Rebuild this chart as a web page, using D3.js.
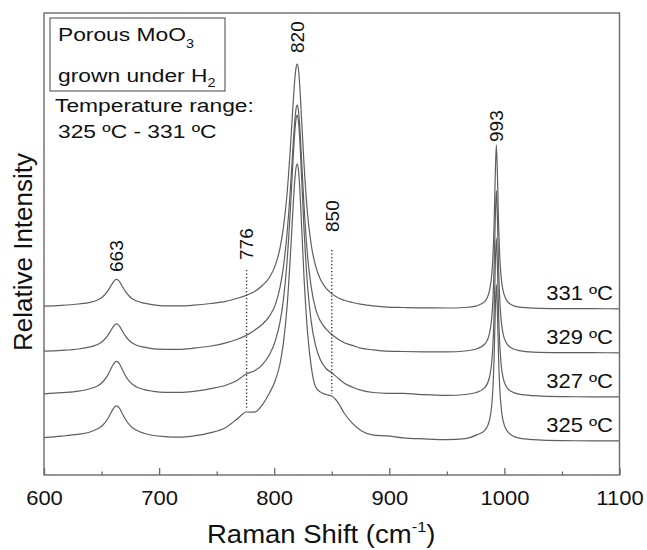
<!DOCTYPE html>
<html>
<head>
<meta charset="utf-8">
<script src="https://cdn.jsdelivr.net/npm/d3@7"></script>
<style>
  html, body { margin: 0; padding: 0; background: #fff; }
  svg { display: block; font-family: "Liberation Sans", Arial, Helvetica, sans-serif; }
</style>
</head>
<body>
<svg id="chart" width="647" height="550"></svg>
<script>
// Raman shift sampling (cm-1), shared by every spectrum
const ramanShift = [600, 615, 630, 640, 646, 651, 655, 658, 660, 662, 663, 664, 666, 668, 671, 675, 680, 687, 695, 705,
  718, 730, 745, 758, 768, 776, 783, 790, 796, 801, 805, 808, 811, 814, 816, 818, 819, 820, 821, 822,
  824, 826, 829, 832, 836, 840, 845, 850, 855, 861, 868, 876, 886, 898, 912, 930, 950, 966, 976, 983,
  987, 989, 990, 991, 992, 993, 994, 995, 996, 997, 998, 1000, 1003, 1007, 1013, 1025, 1050, 1075, 1100];

// Relative intensities (a.u.) for each growth temperature
const i331 = [2.8, 3.6, 5.0, 6.6, 8.7, 12.2, 17.4, 22.9, 26.7, 29.2, 29.6, 29.2, 26.7, 22.7, 17.1, 11.8, 8.2, 5.8, 4.2, 3.1,
  3.1, 3.8, 5.5, 7.6, 10.7, 13.7, 17.6, 23.8, 31.8, 43.9, 60.6, 81.3, 113, 160.3, 197.9, 231, 241.4, 245, 240.2, 226.7,
  185.5, 143.1, 94.7, 65.5, 42.8, 29.9, 20.9, 15.4, 11.5, 8.7, 6.5, 4.6, 3.1, 1.9, 1.5, 1.1, 1.0, 1.5, 3.2, 7.7,
  18.2, 34.3, 51.8, 82.9, 131.5, 163.9, 131.5, 82.9, 51.8, 34.3, 23.8, 13.6, 7.1, 3.8, 1.9, 0.9, 0.4, 0.3, 0.2];
const i329 = [1.8, 2.6, 4.0, 6.1, 8.2, 11.7, 16.9, 22.4, 26.2, 28.7, 29.1, 28.7, 26.2, 22.2, 16.7, 11.5, 8.0, 5.8, 4.2, 3.7,
  3.6, 4.8, 7.0, 10.2, 13.8, 17.8, 22.8, 29.0, 37.1, 48.4, 65.3, 86.2, 117.3, 163.2, 199.8, 233.8, 244.4, 248, 243.2, 229.9,
  188.7, 145.8, 96.9, 67.2, 43.8, 32.3, 24.1, 18.5, 14.2, 10.2, 7.6, 4.6, 3.2, 1.9, 1.5, 1.2, 1.1, 2.0, 4.2, 9.0,
  19.4, 35.2, 52.4, 82.9, 130.6, 162.4, 130.6, 82.9, 52.4, 35.2, 24.8, 14.3, 7.9, 4.5, 2.4, 0.9, 0.4, 0.3, 0.2];
const i327 = [3.1, 4.3, 5.9, 8.3, 10.8, 15.0, 21.1, 27.7, 32.3, 35.3, 35.7, 35.3, 32.3, 27.6, 20.8, 14.6, 10.3, 7.4, 5.7, 4.7,
  4.6, 5.6, 8.4, 11.7, 16.8, 23.3, 26.2, 32.7, 42.4, 56.4, 74.6, 97.4, 132.8, 186.4, 229.2, 266.8, 278.4, 282, 276.5, 261.5,
  214.6, 165.8, 110.8, 76.6, 51.1, 37.4, 28.5, 24.2, 19.4, 13.7, 9.8, 6.6, 4.5, 3.7, 3.7, 2.3, 1.6, 2.5, 4.7, 9.4,
  19.5, 35.0, 51.7, 81.5, 128, 159, 128, 81.5, 51.7, 35.0, 24.9, 14.6, 8.3, 5.0, 2.8, 1.3, 0.3, 0.2, 0.1];
const i325 = [3.4, 4.8, 6.8, 9.0, 11.9, 15.8, 21.5, 27.7, 31.9, 34.8, 35.2, 34.8, 32.0, 27.5, 21.2, 15.2, 11.0, 7.7, 5.5, 4.4,
  3.8, 5.1, 8.3, 13.6, 22.2, 29.0, 28.9, 36.7, 48.2, 60.8, 77, 98.2, 131.7, 183.9, 225.6, 262.2, 273.5, 277, 271.7, 257,
  210.3, 161.8, 108.2, 75.8, 54, 49.1, 46.5, 44.9, 39.1, 27.5, 17.6, 10, 5.9, 5.1, 3.1, 2.1, 1.4, 2.4, 6.1, 10.7,
  20.6, 35.7, 52, 81, 126.3, 156.5, 126.3, 81, 52, 35.7, 25.7, 15.7, 9.1, 5.3, 2.8, 1.3, 0.3, 0.2, 0.1];

const temperatureLabels = ["331 ºC", "329 ºC", "327 ºC", "325 ºC"];
const spectra = [i331, i329, i327, i325];
const stackOffsets = [166, 122, 78, 34];          // vertical offset of each spectrum (a.u.)

const peakPositions = [663, 820, 993];             // labelled band maxima
const shoulderPositions = [776, 850];              // shoulders marked with dotted guides

const xMajorTicks = [600, 700, 800, 900, 1000, 1100];
const xMinorTicks = [650, 750, 850, 950, 1050];

// ---- layout ----
const plot = { left: 44, right: 619.5, top: 13, bottom: 475 };
const svg = d3.select("#chart");

const x = d3.scaleLinear().domain([600, 1100]).range([plot.left, plot.right]);
const y = d3.scaleLinear().domain([0, 462]).range([plot.bottom, plot.top]);

const ink = "#111";
const frameColor = "#6a6a6a";

// Horizontal text helper with a slight horizontal stretch
function label(parent, tx, ty, size, sx, anchor) {
  return parent.append("text")
    .attr("transform", `translate(${tx},${ty}) scale(${sx},1)`)
    .attr("font-size", size)
    .attr("text-anchor", anchor)
    .attr("fill", ink);
}

// ---- spectra ----
const line = d3.line()
  .x(d => x(d[0]))
  .y(d => y(d[1]))
  .curve(d3.curveMonotoneX);

const curves = svg.append("g").attr("fill", "none")
  .attr("stroke", "#5e5e5e").attr("stroke-width", 1.2).attr("stroke-linejoin", "round");

spectra.forEach((vals, k) => {
  const pts = ramanShift.map((v, i) => [v, vals[i] + stackOffsets[k]]);
  curves.append("path").attr("d", line(pts));
});

// ---- dotted guides for the shoulders (from above the top trace down to the lowest trace) ----
const guideTop = { 776: 205, 850: 225 };
const lowest = spectra.length - 1;
shoulderPositions.forEach(v => {
  const idx = ramanShift.indexOf(v);
  const bottomVal = spectra[lowest][idx] + stackOffsets[lowest];
  svg.append("line")
    .attr("x1", x(v)).attr("x2", x(v))
    .attr("y1", y(guideTop[v])).attr("y2", y(bottomVal) - 2)
    .attr("stroke", "#333").attr("stroke-width", 1.4)
    .attr("stroke-dasharray", "1.3,2.2");
});

// ---- band position labels (rotated) ----
const labelLevel = { 663: 203, 776: 215, 820: 422, 850: 243, 993: 333 };
[...peakPositions, ...shoulderPositions].forEach(v => {
  svg.append("text")
    .attr("transform", `translate(${x(v)},${y(labelLevel[v])}) rotate(-90)`)
    .attr("font-size", 19)
    .attr("dy", "0.36em")
    .attr("text-anchor", "start")
    .attr("fill", ink)
    .text(v);
});

// ---- temperature labels at the right end of each trace ----
temperatureLabels.forEach((t, k) => {
  label(svg, 613, y(stackOffsets[k]) - 9, 20, 1.1, "end").text(t);
});

// ---- frame and x axis ----
svg.append("rect")
  .attr("x", plot.left).attr("y", plot.top)
  .attr("width", plot.right - plot.left).attr("height", plot.bottom - plot.top)
  .attr("fill", "none").attr("stroke", frameColor).attr("stroke-width", 1.4);

const axisMajor = svg.append("g")
  .attr("transform", `translate(0,${plot.bottom})`)
  .call(d3.axisBottom(x).tickValues(xMajorTicks).tickSize(-7).tickPadding(16).tickFormat(d3.format("d")));
axisMajor.select(".domain").remove();
axisMajor.selectAll(".tick line").attr("stroke", frameColor).attr("stroke-width", 1.3);
axisMajor.selectAll(".tick text")
  .attr("font-size", 20).attr("fill", ink)
  .attr("font-family", "\"Liberation Sans\", Arial, sans-serif")
  .attr("transform", "scale(1.1,1)");

const axisMinor = svg.append("g")
  .attr("transform", `translate(0,${plot.bottom})`)
  .call(d3.axisBottom(x).tickValues(xMinorTicks).tickSize(-3.5).tickFormat(""));
axisMinor.select(".domain").remove();
axisMinor.selectAll(".tick line").attr("stroke", frameColor).attr("stroke-width", 1.3);

// ---- axis titles ----
const xTitle = label(svg, 207, 543, 25, 1.1, "start");
xTitle.append("tspan").text("Raman Shift (cm");
xTitle.append("tspan").attr("font-size", 15).attr("dy", -11).text("-1");
xTitle.append("tspan").attr("dy", 11).text(")");

svg.append("text")
  .attr("transform", "translate(32,252) rotate(-90)")
  .attr("font-size", 26)
  .attr("text-anchor", "middle")
  .attr("fill", ink)
  .text("Relative Intensity");

// ---- sample description ----
svg.append("rect")
  .attr("x", 50).attr("y", 18).attr("width", 175).attr("height", 73)
  .attr("fill", "none").attr("stroke", "#555").attr("stroke-width", 1.1);

const l1 = label(svg, 58, 41, 19, 1.2, "start");
l1.append("tspan").text("Porous MoO");
l1.append("tspan").attr("font-size", 12).attr("dy", 7).text("3");

const l2 = label(svg, 58, 82, 19, 1.2, "start");
l2.append("tspan").text("grown under H");
l2.append("tspan").attr("font-size", 12).attr("dy", 5).text("2");

label(svg, 55, 112, 19, 1.2, "start").text("Temperature range:");
label(svg, 58, 138, 19, 1.2, "start").text("325 ºC - 331 ºC");
</script>
</body>
</html>
